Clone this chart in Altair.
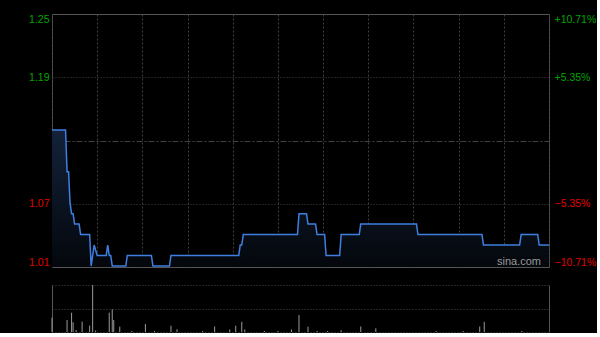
import altair as alt
import pandas as pd

# ---- data ----
PREV_CLOSE = 1.13
PCT_RANGE = 10.71
SESSION_MINUTES = 330

price_minutes = [0, 9, 10, 11, 12, 13, 14, 15, 18, 19, 25, 26, 28, 30, 36, 37, 38, 39, 40,
                 49, 50, 66, 67, 78, 79, 124, 125, 126, 127, 163, 164, 169, 170, 175, 176,
                 181, 182, 191, 192, 204, 205, 242, 243, 285.5, 286.5, 310.5, 311.5, 322.5,
                 323.5, 330]
price_values = [1.14, 1.14, 1.10, 1.10, 1.07, 1.06, 1.06, 1.05, 1.05, 1.04, 1.04, 1.01, 1.03,
                1.02, 1.02, 1.03, 1.02, 1.02, 1.01, 1.01, 1.02, 1.02, 1.01, 1.01, 1.02, 1.02,
                1.03, 1.03, 1.04, 1.04, 1.06, 1.06, 1.05, 1.05, 1.04, 1.04, 1.02, 1.02, 1.04,
                1.04, 1.05, 1.05, 1.04, 1.04, 1.03, 1.03, 1.04, 1.04, 1.03, 1.03]

vol_minutes = [0, 10, 13, 14, 16, 20, 25, 27, 29, 38, 40, 41, 45, 53, 62, 68, 79, 83, 100,
               108, 118, 122, 126, 128, 141, 150, 159, 164, 170, 176, 183, 192, 205, 215,
               255, 273, 284, 287, 312]
vol_values = [143, 120, 193, 97, 20, 103, 63, 470, 15, 193, 227, 120, 53, 10, 80, 10, 63, 27,
              10, 55, 25, 63, 102, 25, 10, 10, 25, 170, 53, 10, 10, 18, 55, 37, 10, 10, 55,
              102, 10]

grid_minutes = list(range(0, SESSION_MINUTES + 1, 30))

GREEN = "#00a400"
RED = "#e00000"
GRID = "#404040"
FONT = "Liberation Sans"

price_df = pd.DataFrame({"minute": price_minutes, "price": price_values})
vol_df = pd.DataFrame({"minute": vol_minutes, "volume": vol_values})

p_lo = PREV_CLOSE * (1 - PCT_RANGE / 100)
p_hi = PREV_CLOSE * (1 + PCT_RANGE / 100)
price_ticks = [p_lo, PREV_CLOSE * (1 - PCT_RANGE / 200), PREV_CLOSE,
               PREV_CLOSE * (1 + PCT_RANGE / 200), p_hi]
pct_ticks = [-PCT_RANGE, -5.35, 5.35, PCT_RANGE]
VMAX = max(vol_values)

x_scale = alt.Scale(domain=[0, SESSION_MINUTES], nice=False, zero=False)
y_scale = alt.Scale(domain=[p_lo, p_hi], nice=False, zero=False)

x_axis_top = alt.Axis(values=grid_minutes, labels=False, ticks=False, domain=False,
                      title=None, grid=True, gridColor=GRID, gridDash=[2, 2],
                      minExtent=0, maxExtent=0)

left_axis = alt.Axis(
    values=price_ticks, title=None, ticks=False, domain=False, labelPadding=3,
    labelFlush=True, labelFont=FONT, labelFontSize=10.5, minExtent=30, maxExtent=30,
    labelExpr="abs(datum.value - 1.13) < 0.001 ? '' : format(datum.value, '.2f')",
    labelColor=alt.condition("datum.value > 1.1301", alt.value(GREEN), alt.value(RED)),
    grid=True, gridColor=GRID, gridWidth=1,
    gridDash=alt.condition("abs(datum.value - 1.13) < 0.001", alt.value([6, 2, 2, 2]), alt.value([1, 2])),
    gridOpacity=alt.condition("datum.value < 1.01 || datum.value > 1.25", alt.value(0), alt.value(1)),
)

right_axis = alt.Axis(
    orient="right", values=pct_ticks, title=None, ticks=False, domain=False,
    labelPadding=5, labelFlush=True, labelFont=FONT, labelFontSize=10.5, grid=False,
    labelExpr="(datum.value > 0 ? '+' : '') + format(datum.value, '.2f') + '%'",
    labelColor=alt.condition("datum.value > 0", alt.value(GREEN), alt.value(RED)),
)

area = alt.Chart(price_df).mark_area(
    color=alt.Gradient(gradient="linear",
                       stops=[alt.GradientStop(color="#13223a", offset=0),
                              alt.GradientStop(color="#04070c", offset=1)],
                       x1=1, x2=1, y1=0, y2=1)
).encode(
    x=alt.X("minute:Q", scale=x_scale, axis=x_axis_top),
    y=alt.Y("price:Q", scale=y_scale, axis=left_axis),
    y2=alt.datum(p_lo),
)

line = alt.Chart(price_df).mark_line(color="#3f7fe0", strokeWidth=1.5).encode(
    x=alt.X("minute:Q", scale=x_scale, axis=x_axis_top),
    y=alt.Y("price:Q", scale=y_scale, axis=left_axis),
)

watermark = alt.Chart(price_df).mark_text(
    text="sina.com", font=FONT, fontSize=11, color="#9a9a9a", align="center", baseline="alphabetic"
).encode(x=alt.value(467), y=alt.value(251)).transform_filter("datum.minute == 0")

pct_layer = alt.Chart(price_df).transform_calculate(
    pct=f"(datum.price / {PREV_CLOSE} - 1) * 100"
).mark_point(opacity=0).encode(
    x=alt.X("minute:Q", scale=x_scale, axis=x_axis_top),
    y=alt.Y("pct:Q", scale=alt.Scale(domain=[-PCT_RANGE, PCT_RANGE], nice=False, zero=False),
            axis=right_axis),
)

top = alt.layer(alt.layer(area, line, watermark), pct_layer).resolve_scale(
    y="independent").properties(width=497, height=253)

vol = alt.Chart(vol_df, view=alt.ViewBackground(stroke="transparent")).mark_rule(
    color="#9a9a9a", strokeWidth=1
).encode(
    x=alt.X("minute:Q", scale=x_scale,
            axis=alt.Axis(values=[0, SESSION_MINUTES], labels=False, ticks=False, domain=False,
                          title=None, grid=True, gridColor="#555555", minExtent=0, maxExtent=0)),
    y=alt.Y("volume:Q", scale=alt.Scale(domain=[0, VMAX], nice=False),
            axis=alt.Axis(values=[0, VMAX / 2, VMAX], labels=False, ticks=False, domain=False,
                          title=None, grid=True, gridColor="#4a4a4a", gridDash=[1, 2],
                          minExtent=30, maxExtent=30)),
    y2=alt.datum(0),
).properties(width=497, height=47)

chart = alt.vconcat(top, vol, spacing=14).properties(
    background="black",
    padding={"left": 21, "top": 13, "right": 0, "bottom": 0},
).configure_view(stroke="#555555", strokeWidth=1)

chart.save("out.html", embed_options={"renderer": "svg", "actions": False})
